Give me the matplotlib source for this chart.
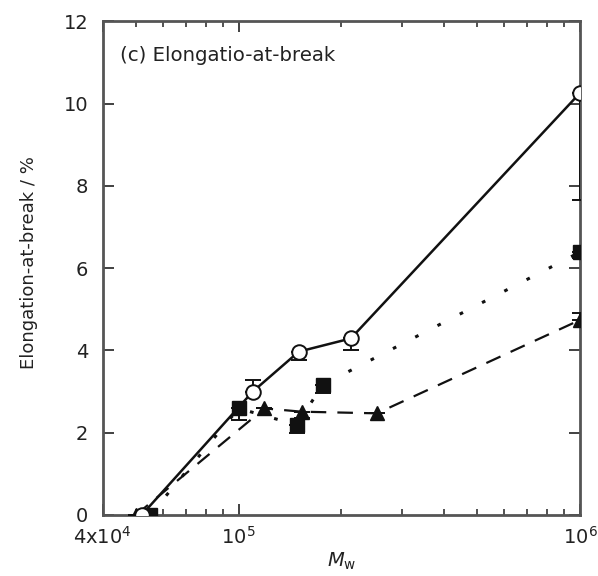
import matplotlib
matplotlib.use("Agg")
import matplotlib.pyplot as plt
from matplotlib.ticker import FixedLocator, NullFormatter

plt.rcParams['font.family'] = ['DejaVu Sans']
plt.rcParams['mathtext.fontset'] = 'dejavusans'

# Data
mw_circle = [5.2e4, 1.1e5, 1.5e5, 2.13e5, 1.0e6]
el_circle = [0.0, 3.0, 3.97, 4.29, 10.26]
err_circle_lo = [0.0, 0.0, 0.2, 0.28, 2.6]
err_circle_hi = [0.0, 0.28, 0.0, 0.0, 0.0]

mw_square = [5.5e4, 1.0e5, 1.48e5, 1.76e5, 1.0e6]
el_square = [0.0, 2.59, 2.19, 3.16, 6.39]
err_square_lo = [0.0, 0.28, 0.2, 0.2, 0.15]
err_square_hi = [0.0, 0.0, 0.0, 0.0, 0.0]

mw_tri = [5.0e4, 1.19e5, 1.53e5, 2.54e5, 1.0e6]
el_tri = [0.0, 2.59, 2.51, 2.47, 4.74]
err_tri_lo = [0.0, 0.0, 0.15, 0.0, 0.0]
err_tri_hi = [0.0, 0.0, 0.0, 0.0, 0.17]

xticks_major = [4e4, 1e5, 1e6]
xtick_labels = [r'4x10$^4$', r'10$^5$', r'10$^6$']
xticks_minor = [5e4, 6e4, 7e4, 8e4, 9e4, 2e5, 3e5, 4e5, 5e5, 6e5, 7e5, 8e5, 9e5]
yticks = [0, 2, 4, 6, 8, 10, 12]

fig = plt.figure(figsize=(5.98, 5.76), dpi=100)
ax = fig.add_axes([0.172, 0.106, 0.798, 0.857])

k = '#111111'
ax.errorbar(mw_tri, el_tri, yerr=[err_tri_lo, err_tri_hi], fmt='^', color=k,
            ls=(0, (7, 5)), lw=1.6, ms=10.5, mfc=k, mec=k, capsize=6, elinewidth=1.4,
            capthick=1.4, zorder=3)
ax.errorbar(mw_square, el_square, yerr=[err_square_lo, err_square_hi], fmt='s', color=k,
            ls=(0, (1.2, 7)), lw=2.2, ms=10.5, mfc=k, mec=k, capsize=6, elinewidth=1.4,
            capthick=1.4, zorder=4)
ax.errorbar(mw_circle, el_circle, yerr=[err_circle_lo, err_circle_hi], fmt='o', color=k,
            ls='-', lw=1.8, ms=10.5, mfc='white', mec=k, mew=1.4, capsize=6, elinewidth=1.4,
            capthick=1.4, zorder=5)

ax.set_xscale('log')
ax.set_xlim(4e4, 1e6)
ax.set_ylim(0, 12)
ax.xaxis.set_major_locator(FixedLocator(xticks_major))
ax.set_xticklabels(xtick_labels)
ax.xaxis.set_minor_locator(FixedLocator(xticks_minor))
ax.xaxis.set_minor_formatter(NullFormatter())
ax.set_yticks(yticks)
ax.set_yticklabels([str(v) for v in yticks])

ax.tick_params(which='both', direction='in', top=True, right=True, labelsize=14,
               color='#333333', labelcolor='#222222')
ax.tick_params(which='major', length=8, width=1.3)
ax.tick_params(axis='y', which='major', pad=10.5)
ax.tick_params(axis='x', which='major', pad=8)
ax.tick_params(which='minor', length=4, width=1.2)

for s in ax.spines.values():
    s.set_color('#555555')
    s.set_linewidth(2)

ax.set_ylabel('Elongation-at-break / %', fontsize=13, color='#222222')
ax.yaxis.set_label_coords(-0.136, 0.512)
ax.set_xlabel(r'$M_\mathrm{w}$', fontsize=14, color='#222222', labelpad=2)
ax.text(0.036, 0.931, '(c) Elongatio-at-break', transform=ax.transAxes, fontsize=14.2,
        ha='left', va='center', color='#222222')

fig.savefig('out.png', dpi=100)
